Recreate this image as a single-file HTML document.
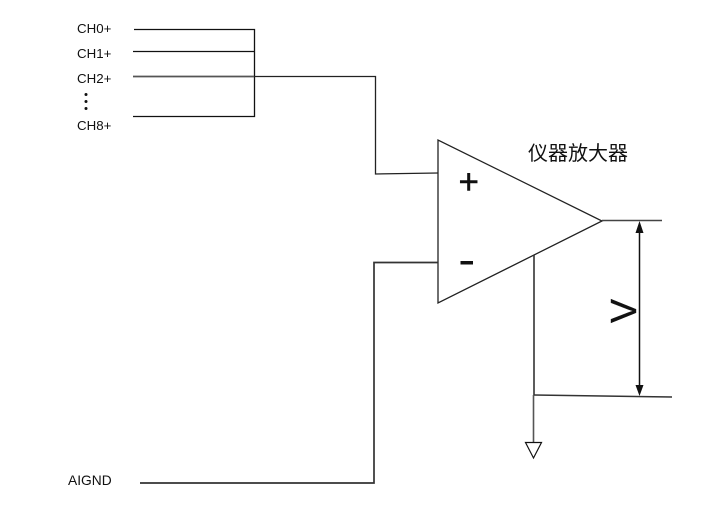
<!DOCTYPE html>
<html><head><meta charset="utf-8">
<style>
html,body{margin:0;padding:0;background:#fff;width:702px;height:512px;overflow:hidden}
svg{display:block}
text{font-family:"Liberation Sans","Noto Sans CJK SC",sans-serif;fill:#111}
</style></head>
<body>
<svg width="702" height="512" viewBox="0 0 702 512" xmlns="http://www.w3.org/2000/svg">
<g fill="none" stroke="#111" stroke-width="1.300">
<path d="M134 29.500H254.500V116.500H133"/>
<path d="M133 51.500H254"/>
<path d="M133 76.500H254" stroke="#555" stroke-width="1.800"/>
<path d="M254 76.500H375.500V174L438 173" stroke="#222"/>
<path d="M438 140V303L602 221Z" stroke="#222"/>
<path d="M602 220.500H662" stroke="#444" stroke-width="1.600"/>
<path d="M438 262.500H374V483H140" stroke="#333" stroke-width="1.700"/>
<path d="M534 255V395" stroke="#333" stroke-width="1.600"/>
<path d="M533.500 395V443" stroke="#555" stroke-width="1.600"/>
<path d="M534 395L672 397" stroke="#333" stroke-width="1.500"/>
<path d="M525.500 442.500H541.500L533.500 458Z" stroke-width="1.200"/>
<path d="M639.500 232V386" stroke="#111" stroke-width="1.500"/>
</g>
<path d="M639.500 221L643.500 233H635.500Z" fill="#111"/>
<path d="M639.500 396L643.500 385H635.500Z" fill="#111"/>
<g font-size="13.300">
<text x="77" y="33">CH0+</text>
<text x="77" y="58">CH1+</text>
<text x="77" y="83">CH2+</text>
<text x="77" y="130">CH8+</text>
<text x="68" y="485" font-size="13.800">AIGND</text>
</g>
<g fill="#111">
<circle cx="86" cy="94.500" r="1.500"/>
<circle cx="86" cy="101.500" r="1.500"/>
<circle cx="86" cy="108.500" r="1.500"/>
</g>
<text x="528" y="160" font-size="20">仪器放大器</text>
<text x="458.500" y="193.500" font-size="35" stroke="#111" stroke-width="0.500">+</text>
<rect x="460.500" y="261" width="12.500" height="3.500" fill="#111"/>
<text x="0" y="0" font-size="36" stroke="#111" stroke-width="0.400" transform="translate(636,323) rotate(-90)">V</text>
</svg>
</body></html>
